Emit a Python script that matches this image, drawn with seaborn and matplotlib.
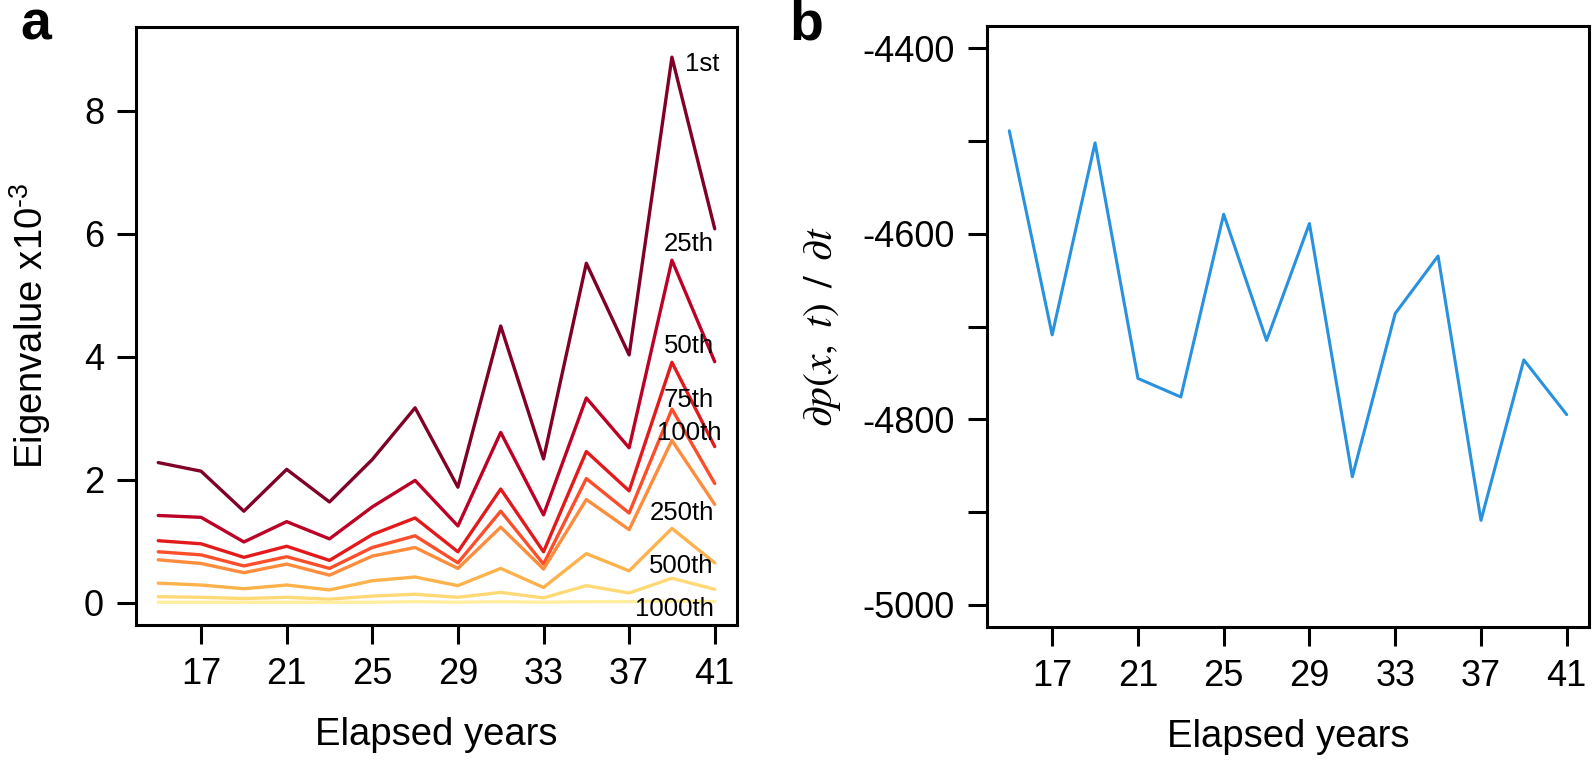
import numpy as np
import pandas as pd
import matplotlib
matplotlib.use("Agg")
import matplotlib.pyplot as plt
import seaborn as sns

# ---------------- data ----------------
years = [15, 17, 19, 21, 23, 25, 27, 29, 31, 33, 35, 37, 39, 41]

rank_labels = ["1st", "25th", "50th", "75th", "100th", "250th", "500th", "1000th"]
ev_1st    = [2.28, 2.14, 1.49, 2.17, 1.64, 2.33, 3.17, 1.88, 4.50, 2.34, 5.52, 4.03, 8.87, 6.08]
ev_25th   = [1.42, 1.39, 0.99, 1.32, 1.04, 1.56, 1.99, 1.25, 2.77, 1.43, 3.33, 2.52, 5.57, 3.92]
ev_50th   = [1.01, 0.96, 0.74, 0.92, 0.69, 1.11, 1.38, 0.83, 1.85, 0.83, 2.46, 1.82, 3.91, 2.54]
ev_75th   = [0.83, 0.78, 0.60, 0.75, 0.56, 0.90, 1.09, 0.65, 1.49, 0.63, 2.02, 1.46, 3.15, 1.94]
ev_100th  = [0.70, 0.64, 0.49, 0.63, 0.45, 0.76, 0.90, 0.56, 1.23, 0.55, 1.68, 1.19, 2.64, 1.60]
ev_250th  = [0.32, 0.29, 0.23, 0.29, 0.21, 0.36, 0.42, 0.28, 0.56, 0.25, 0.80, 0.52, 1.21, 0.65]
ev_500th  = [0.10, 0.09, 0.07, 0.09, 0.06, 0.11, 0.14, 0.09, 0.17, 0.08, 0.28, 0.16, 0.40, 0.22]
ev_1000th = [0.01, 0.01, 0.01, 0.01, 0.01, 0.01, 0.02, 0.01, 0.02, 0.01, 0.02, 0.02, 0.03, 0.02]

dpdt = [-4489, -4709, -4502, -4756, -4776, -4579, -4715, -4589,
        -4862, -4686, -4624, -4909, -4736, -4795]

x_ticks = [17, 21, 25, 29, 33, 37, 41]
a_yticks = [0, 2, 4, 6, 8]
b_yticks = [-5000, -4900, -4800, -4700, -4600, -4500, -4400]
b_yticklabels = ["-5000", "", "-4800", "", "-4600", "", "-4400"]

# label positions (year, value) for the rank annotations
label_pos = [(41.2, 8.65), (40.95, 5.72), (40.95, 4.06), (40.95, 3.19),
             (41.33, 2.65), (40.95, 1.34), (40.95, 0.49), (40.95, -0.22)]

palette = ["#800026", "#BD0026", "#E31A1C", "#FC4E2A",
           "#FD8D3C", "#FEB24C", "#FED976", "#FFEDA0"]
blue = "#2892DE"

# ---------------- style ----------------
sns.set_style("ticks")
plt.rcParams["font.family"] = ["Liberation Sans", "DejaVu Sans"]
plt.rcParams["mathtext.fontset"] = "custom"
plt.rcParams["mathtext.rm"] = "Liberation Sans"
plt.rcParams["mathtext.it"] = "Liberation Sans:italic"
plt.rcParams["mathtext.bf"] = "Liberation Sans:bold"

FS = 26
LFS = 27.5
plt.rcParams.update({
    "text.color": "black",
    "axes.labelcolor": "black",
    "axes.linewidth": 2.2,
    "axes.edgecolor": "black",
    "xtick.major.width": 2.2,
    "ytick.major.width": 2.2,
    "xtick.major.size": 14,
    "ytick.major.size": 14,
    "xtick.major.pad": 9,
    "ytick.major.pad": 9,
    "xtick.labelsize": FS,
    "ytick.labelsize": FS,
    "xtick.color": "black",
    "ytick.color": "black",
})

fig = plt.figure(figsize=(15.94, 7.61), dpi=100)
ax_a = fig.add_axes([136 / 1594, (761 - 625) / 761, 601 / 1594, 598 / 761])
ax_b = fig.add_axes([987 / 1594, (761 - 627) / 761, 602 / 1594, 601 / 761])

# ---------------- panel a ----------------
series = [ev_1st, ev_25th, ev_50th, ev_75th, ev_100th, ev_250th, ev_500th, ev_1000th]
df = pd.DataFrame({
    "year": np.tile(years, len(series)),
    "value": np.concatenate(series),
    "rank": np.repeat(rank_labels, len(years)),
})
sns.lineplot(data=df, x="year", y="value", hue="rank", hue_order=rank_labels,
             palette=palette, linewidth=2.4, legend=False, ax=ax_a)

for lab, (lx, ly) in zip(rank_labels, label_pos):
    ax_a.text(lx, ly, lab, fontsize=18.5, ha="right", va="baseline", color="black")

ax_a.set_xlim(13.96, 42.04)
ax_a.set_ylim(-0.36, 9.36)
ax_a.set_xticks(x_ticks)
ax_a.set_yticks(a_yticks)
ax_a.set_xlabel("Elapsed years", fontsize=LFS, labelpad=18)
ax_a.set_ylabel(r"Eigenvalue x10$^{\text{-}3}$", fontsize=LFS, labelpad=22)

# ---------------- panel b ----------------
dfb = pd.DataFrame({"year": years, "dpdt": dpdt})
sns.lineplot(data=dfb, x="year", y="dpdt", color=blue, linewidth=2.2, ax=ax_b)
ax_b.set_xlim(13.96, 42.04)
ax_b.set_ylim(-5024, -4376)
ax_b.set_xticks(x_ticks)
ax_b.set_yticks(b_yticks)
ax_b.set_yticklabels(b_yticklabels)
ax_b.set_xlabel("Elapsed years", fontsize=LFS, labelpad=18)
ylab = ax_b.set_ylabel(r"$\partial p(x,\ t)\ \,/\ \,\partial t$", fontsize=30, labelpad=14)
ylab.set_math_fontfamily("stix")

for ax in (ax_a, ax_b):
    for s in ax.spines.values():
        s.set_visible(True)
        s.set_linewidth(2.2)
    ax.tick_params(direction="out")

fig.text(20 / 1594, 1 - 40 / 761, "a", fontsize=40, fontweight="bold", ha="left", va="baseline")
fig.text(789 / 1594, 1 - 40 / 761, "b", fontsize=40, fontweight="bold", ha="left", va="baseline")

fig.savefig("out.png", dpi=100, facecolor="white")
